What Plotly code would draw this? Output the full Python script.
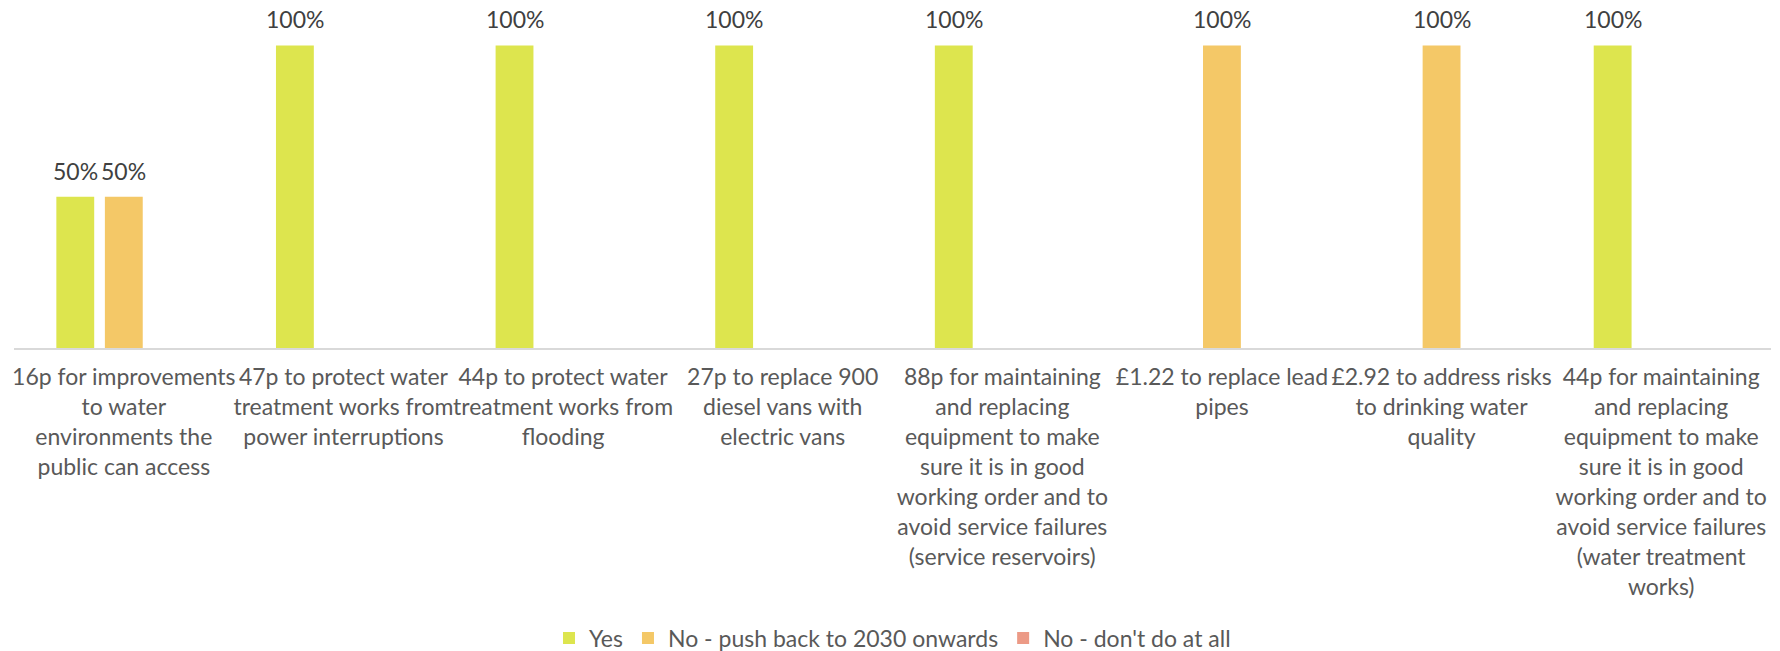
import plotly.graph_objects as go

categories = [
    "16p for improvements<br>to water<br>environments the<br>public can access",
    "47p to protect water<br>treatment works from<br>power interruptions",
    "44p to protect water<br>treatment works from<br>flooding",
    "27p to replace 900<br>diesel vans with<br>electric vans",
    "88p for maintaining<br>and replacing<br>equipment to make<br>sure it is in good<br>working order and to<br>avoid service failures<br>(service reservoirs)",
    "£1.22 to replace lead<br>pipes",
    "£2.92 to address risks<br>to drinking water<br>quality",
    "44p for maintaining<br>and replacing<br>equipment to make<br>sure it is in good<br>working order and to<br>avoid service failures<br>(water treatment<br>works)",
]
series_names = ["Yes", "No - push back to 2030 onwards", "No - don't do at all"]
yes_vals = [0.5, 1, 1, 1, 1, 0, 0, 1]
pushback_vals = [0.5, 0, 0, 0, 0, 1, 1, 0]
dont_vals = [0, 0, 0, 0, 0, 0, 0, 0]
series_values = [yes_vals, pushback_vals, dont_vals]
colors = ["#DDE54E", "#F4C867", "#EC9A86"]

W, H = 1780, 651
ML, MR, MT, MB = 14, 9, 0, 303
BARGAP = 0.337
BARGROUPGAP = 0.22
FONT = "Lato, 'Open Sans', sans-serif"
FS = 23

fig = go.Figure()
for name, vals, col in zip(series_names, series_values, colors):
    fig.add_trace(go.Bar(
        x=categories, y=vals, name=name,
        marker=dict(color=col, line=dict(width=0)),
        hoverinfo="skip",
    ))

# data labels above non-zero bars
plot_w = W - ML - MR
cat_w = plot_w / len(categories)
slot = cat_w * (1 - BARGAP) / len(series_names)
annotations = []
for i, vals in enumerate(series_values):
    for c, v in zip(categories, vals):
        if v > 0:
            annotations.append(dict(
                x=c, y=v, xref="x", yref="y",
                text=f"{v:.0%}", showarrow=False,
                xshift=(i - (len(series_names) - 1) / 2) * slot,
                yshift=26, yanchor="middle",
                font=dict(family=FONT, size=FS, color="#404040"),
            ))

fig.update_layout(
    width=W, height=H,
    margin=dict(l=ML, r=MR, t=MT, b=MB),
    paper_bgcolor="white", plot_bgcolor="white",
    barmode="group", bargap=BARGAP, bargroupgap=BARGROUPGAP,
    font=dict(family=FONT, size=FS, color="#595959"),
    showlegend=True,
    legend=dict(
        orientation="h", x=0.5, xanchor="center",
        yref="container", y=13 / H, yanchor="middle",
        font=dict(family=FONT, size=FS, color="#595959"),
        traceorder="normal",
    ),
    annotations=annotations,
)
fig.update_xaxes(
    showline=True, linecolor="#D9D9D9", linewidth=1.5,
    ticks="", tickangle=0, showgrid=False, ticklabelstandoff=8,
    tickfont=dict(family=FONT, size=FS, color="#595959"),
)
fig.update_yaxes(
    range=[0, 1.15], visible=False, showgrid=False, zeroline=False,
)
fig.write_html("out.html")
